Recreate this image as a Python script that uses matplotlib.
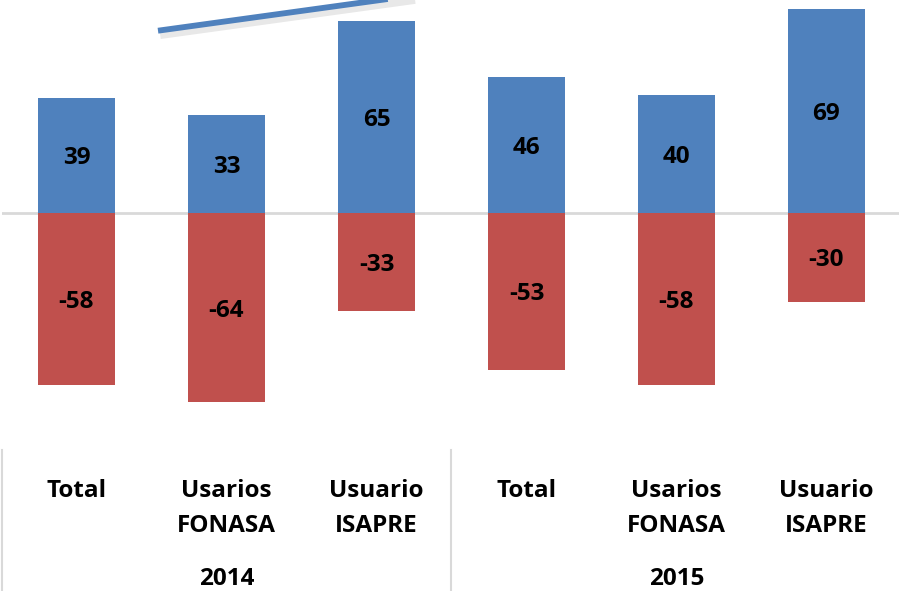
import matplotlib
matplotlib.use("Agg")
import matplotlib.pyplot as plt
import matplotlib.transforms as mtransforms
import matplotlib.patheffects as pe
from matplotlib.lines import Line2D

# ---- data ----
categories = ["Total", "Usarios\nFONASA", "Usuario\nISAPRE", "Total", "Usarios\nFONASA", "Usuario\nISAPRE"]
years = ["2014", "2015"]
positive = [39, 33, 65, 46, 40, 69]
negative = [-58, -64, -33, -53, -58, -30]

BLUE = "#4F81BD"
RED = "#C0504D"
GRID = "#D9D9D9"
FONT = "Open Sans"
FS = 17.5

W, H = 899, 591
fig = plt.figure(figsize=(W / 100, H / 100), dpi=100)
fig.patch.set_facecolor("white")

zero_px = 213.0
px_per_unit = 2.96
ax = fig.add_axes([1.5 / W, 0, 900 / W, 1])
ax.set_xlim(-0.5, len(categories) - 0.5)
ax.set_ylim(-(H - zero_px) / px_per_unit, zero_px / px_per_unit)
ax.axis("off")

x = list(range(len(categories)))
bw = 77 / 150
ax.bar(x, positive, width=bw, color=BLUE, zorder=2)
ax.bar(x, negative, width=bw, color=RED, zorder=2)
ax.axhline(0, color=GRID, lw=2, zorder=1)

for xi, p, n in zip(x, positive, negative):
    ax.text(xi, p / 2, f"{p}", ha="center", va="center_baseline", fontsize=FS,
            fontweight="bold", family=FONT, color="black", zorder=3)
    ax.text(xi, n / 2, f"{n}", ha="center", va="center_baseline", fontsize=FS,
            fontweight="bold", family=FONT, color="black", zorder=3)

blend = mtransforms.blended_transform_factory(ax.transData, fig.transFigure)
for xi, c in zip(x, categories):
    for li, part in enumerate(c.split("\n")):
        ax.text(xi, (H - (497 + 35 * li)) / H, part, transform=blend, ha="center",
                va="baseline", fontsize=FS, fontweight="bold", family=FONT)
ngroup = len(categories) // len(years)
for gi, yr in enumerate(years):
    center = gi * ngroup + (ngroup - 1) / 2
    ax.text(center, (H - 585) / H, yr, transform=blend, ha="center", va="baseline",
            fontsize=FS, fontweight="bold", family=FONT)
for gi in range(len(years)):
    sx = gi * ngroup - 0.5
    ax.plot([sx, sx], [(H - 450) / H, 0], transform=blend, color=GRID, lw=1.5,
            clip_on=False)

# decorative trend line (top-left shape)
line = Line2D([158, 520], [H - 30.7, H - 30.7 + 0.138 * (520 - 158)],
              transform=None, color=BLUE, lw=4.2, solid_capstyle="butt",
              path_effects=[pe.SimpleLineShadow(offset=(1.5, -2.5), shadow_color="gray", alpha=0.18, linewidth=7),
                            pe.Normal()])
fig.add_artist(line)

fig.savefig("out.png", dpi=100, facecolor="white")
